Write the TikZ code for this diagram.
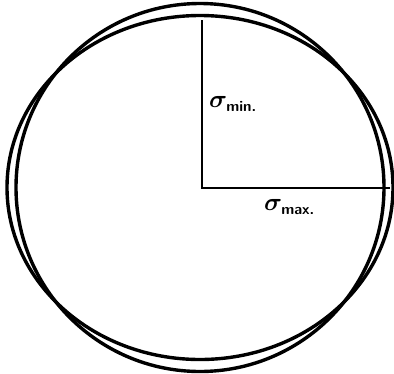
\documentclass[tikz,border=0pt]{standalone}
\usepackage{amsmath,amssymb,bm}
\usepackage{tikz}
\usetikzlibrary{positioning, calc}
\tikzset{
    rim/.style={draw, line width=3.4pt},
    axis_line/.style={draw, line width=2pt},
    stress_label/.style={inner sep=0pt, font=\fontsize{25}{28}\selectfont}
}
\newcommand{\subtxt}[1]{\text{\fontsize{15}{16}\selectfont\sffamily\bfseries #1}}

\begin{document}
\begin{tikzpicture}[x=1pt, y=-1pt]
			\useasboundingbox (0,0) rectangle (394,373);
			\coordinate (mid) at (200,187.5);
			\coordinate (o) at (202,188);
			\coordinate (top) at (202,20);
			\coordinate (right) at (390,188);
			
			\draw [rim] (mid) circle [radius=184];
			\draw [rim] (mid) ellipse [x radius=193, y radius=172];
			
			\draw [axis_line] (top) -- (o) -- (right);
			
			\node (smin) [stress_label, anchor=west] at (209,104) {$\bm{\sigma}_{\subtxt{min.}}$};
			\node (smax) [stress_label, anchor=west] at (264,207) {$\bm{\sigma}_{\subtxt{max.}}$};
		\end{tikzpicture}
\end{document}
